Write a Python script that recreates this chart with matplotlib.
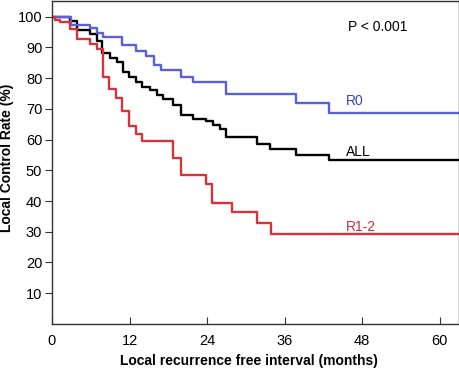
import numpy as np
import matplotlib.pyplot as plt

plt.rcParams['font.family'] = ['Liberation Sans', 'DejaVu Sans']

# Kaplan-Meier step data (months, % after step)
r0_t = [0, 3.0, 5.9, 6.9, 7.9, 10.9, 13.0, 14.6, 15.8, 16.9, 20.0, 21.8, 27.0, 37.8, 42.9, 63]
r0_v = [100, 97.4, 96.2, 94.8, 93.5, 90.8, 88.7, 87.3, 84.3, 82.7, 80.5, 78.7, 74.9, 72.0, 68.8, 68.8]

all_t = [0, 2.8, 3.8, 5.9, 6.9, 7.8, 9.0, 10.0, 11.0, 11.9, 13.0, 14.0, 15.1, 16.2, 17.2,
         18.7, 20.0, 21.8, 23.9, 24.9, 26.0, 27.0, 31.7, 33.8, 37.8, 42.8, 63]
all_v = [100, 98.7, 95.8, 94.4, 92.2, 88.3, 86.7, 85.1, 82.1, 80.5, 78.6, 77.2, 76.0, 74.4, 73.2,
         71.1, 68.0, 66.8, 65.9, 64.7, 63.4, 61.0, 58.5, 56.8, 55.1, 53.2, 53.2]

r12_t = [0, 0.5, 1.2, 2.8, 3.8, 5.9, 6.9, 7.9, 8.8, 9.9, 10.9, 11.9, 13.0, 14.0,
         18.8, 19.9, 23.8, 24.8, 27.8, 31.8, 33.9, 63]
r12_v = [100, 99.0, 98.3, 96.1, 92.8, 91.1, 89.4, 80.4, 76.6, 73.6, 69.3, 64.3, 61.9, 59.4,
         54.1, 48.4, 45.6, 39.2, 36.4, 32.8, 29.1, 29.1]

x_ticks = [0, 12, 24, 36, 48, 60]
y_ticks = [10, 20, 30, 40, 50, 60, 70, 80, 90, 100]

blue = '#5a5fdc'
red = '#d8323b'

fig = plt.figure(figsize=(4.6, 3.71), dpi=100)
ax = fig.add_axes([0.113, 0.127, 0.885, 0.871])

ax.step(all_t, all_v, where='post', color='black', lw=1.7)
ax.step(r0_t, r0_v, where='post', color=blue, lw=1.7)
ax.step(r12_t, r12_v, where='post', color=red, lw=1.7)

ax.text(45.5, 72.6, 'R0', color='#3a40c0', fontsize=10, va='center')
ax.text(45.5, 55.8, 'ALL', color='black', fontsize=10, va='center')
ax.text(45.5, 31.6, 'R1-2', color='#c8303a', fontsize=10, va='center')
ax.text(45.8, 96.6, 'P < 0.001', color='black', fontsize=10, va='center')

ax.set_xlim(0, 63)
ax.set_ylim(0, 105.2)
ax.set_xticks(x_ticks)
ax.set_yticks(y_ticks)
ax.tick_params(axis='x', direction='in', length=5, pad=7, labelsize=10.5, color='#333333')
ax.tick_params(axis='y', direction='out', length=5, pad=2, labelsize=10.5, color='#333333')
for s in ax.spines.values():
    s.set_color('#333333'); s.set_linewidth(1.0)

ax.set_xlabel('Local recurrence free interval (months)', fontweight='bold', fontsize=10)
ax.set_ylabel('Local Control Rate (%)', fontweight='bold', fontsize=10)
ax.xaxis.set_label_coords(0.485, -0.094)
ax.yaxis.set_label_coords(-0.094, 0.515)

fig.savefig('out.png', dpi=100)
